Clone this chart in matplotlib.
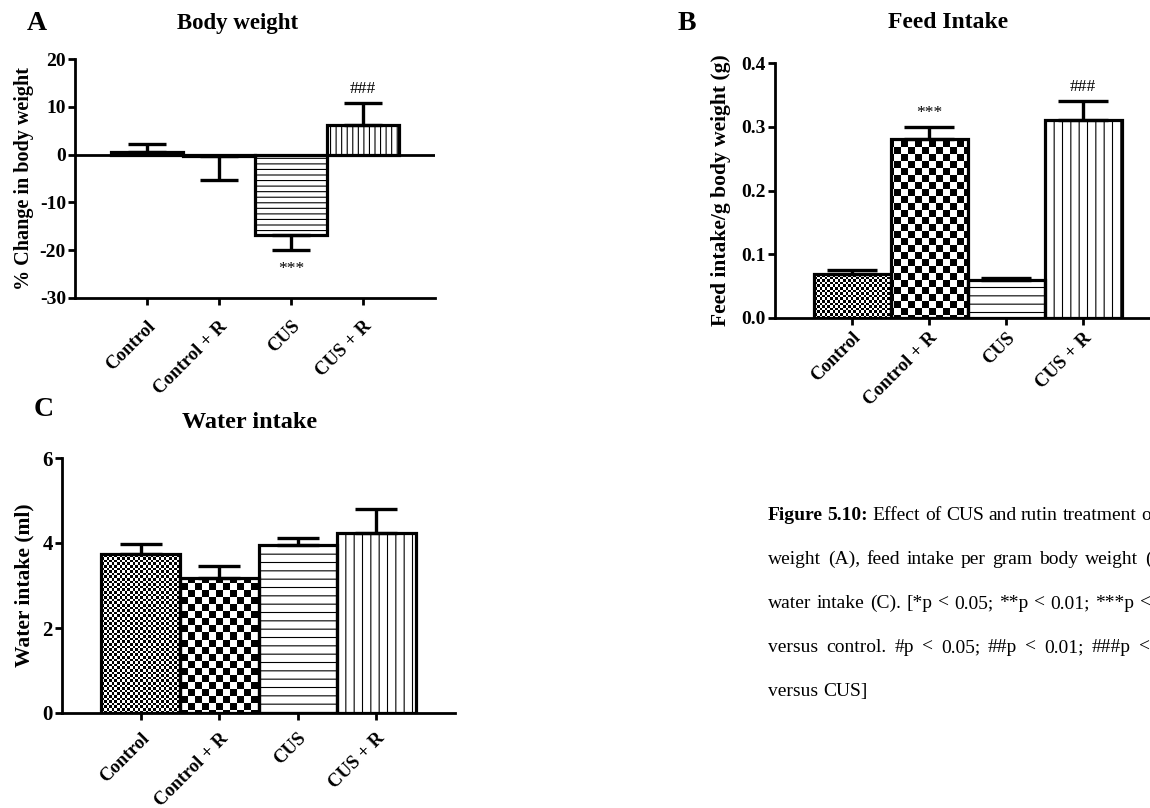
import numpy as np
import matplotlib
matplotlib.use("Agg")
import matplotlib.pyplot as plt
from matplotlib.ticker import FormatStrFormatter
from matplotlib.transforms import IdentityTransform

# figure size in pixels (dpi 100)
W, H = 1150, 808

groups = ["Control", "Control + R", "CUS", "CUS + R"]

# A - % change in body weight (mean, one-sided error)
bw_mean = [0.6, -0.2, -16.9, 6.1]
bw_err = [1.6, 5.1, 3.0, 4.7]
bw_marks = ["", "", "***", "###"]

# B - feed intake per g body weight
feed_mean = [0.069, 0.28, 0.06, 0.31]
feed_err = [0.006, 0.019, 0.002, 0.031]
feed_marks = ["", "***", "", "###"]

# C - water intake (ml)
water_mean = [3.74, 3.18, 3.95, 4.24]
water_err = [0.24, 0.29, 0.17, 0.55]
water_marks = ["", "", "", ""]

caption_lines = [
    "Figure 5.10: Effect of CUS and rutin treatment on body",
    "weight (A), feed intake per gram body weight (B) and",
    "water intake (C). [*p < 0.05; **p < 0.01; ***p < 0.001",
    "versus control. #p < 0.05; ##p < 0.01; ###p < 0.001",
    "versus CUS]",
]
caption_bold = ["Figure", "5.10:"]

plt.rcParams["font.family"] = ["Liberation Serif", "DejaVu Serif"]
plt.rcParams["font.weight"] = "bold"
plt.rcParams["axes.labelweight"] = "bold"
plt.rcParams["axes.unicode_minus"] = False
plt.rcParams["hatch.linewidth"] = 0.8

fig = plt.figure(figsize=(W / 100, H / 100), dpi=100)


# axes rectangle from pixel edges (top-left origin)
def px_rect(left, top, right, bottom):
    return [left / W, 1 - bottom / H, (right - left) / W, (bottom - top) / H]


def px(x, y):
    return x / W, 1 - y / H


# checkerboard texture over the whole axes, clipped to one bar
def checker(ax, bar, square):
    bb = ax.get_window_extent()
    w, h = int(round(bb.width)), int(round(bb.height))
    yy, xx = np.mgrid[0:h, 0:w]
    img = ((np.floor(xx / square) + np.floor(yy / square)) % 2)
    im = ax.imshow(img, cmap="gray_r", vmin=0, vmax=1, interpolation="nearest",
                   extent=(0, 1, 0, 1), transform=ax.transAxes, aspect="auto",
                   zorder=1.5)
    im.set_clip_path(bar)


def panel(ax, means, errs, marks, ylim, yticks, fmt, capsize, tick_fs, xpad,
          hatch_step, zero_line=False):
    x = np.arange(len(means))
    face = ax.bar(x, means, width=1.0, color="white", linewidth=0, zorder=1)
    # textures: fine checker, coarse checker, horizontal, vertical lines
    checker(ax, face[0], 2.6)
    checker(ax, face[1], 7.0)
    outline = ax.bar(x, means, width=1.0, facecolor="none", edgecolor="black",
                     linewidth=2.3, zorder=2)
    outline[2].set_hatch("-" * hatch_step[0])
    outline[3].set_hatch("|" * hatch_step[1])

    lower = [e if m < 0 else 0 for m, e in zip(means, errs)]
    upper = [e if m >= 0 else 0 for m, e in zip(means, errs)]
    ax.errorbar(x, means, yerr=[lower, upper], fmt="none", ecolor="black",
                elinewidth=2.4, capsize=capsize, capthick=2.4, zorder=3)

    for i, (m, e, s) in enumerate(zip(means, errs, marks)):
        if not s:
            continue
        if m < 0:
            ax.annotate(s, (i, m - e), xytext=(0, -14), textcoords="offset points",
                        ha="center", va="center", fontsize=12.5,
                        fontweight="normal")
        else:
            ax.annotate(s, (i, m + e), xytext=(0, 10), textcoords="offset points",
                        ha="center", va="center", fontsize=12.5,
                        fontweight="normal")

    if zero_line:
        ax.axhline(0, color="black", linewidth=2.0, zorder=2.5)

    ax.set_xlim(-1.0, 4.0)
    ax.set_ylim(*ylim)
    ax.set_yticks(yticks)
    ax.yaxis.set_major_formatter(FormatStrFormatter(fmt))
    ax.set_xticks(x)
    ax.set_xticklabels(groups, rotation=45, ha="right", va="top",
                       rotation_mode="anchor", fontsize=13.5)
    ax.tick_params(axis="y", labelsize=tick_fs, pad=1.5)
    ax.tick_params(direction="out", length=5, width=2.0, color="black")
    ax.tick_params(axis="x", pad=xpad)
    for side in ["top", "right"]:
        ax.spines[side].set_visible(False)
    for side in ["left", "bottom"]:
        ax.spines[side].set_linewidth(2.0)


# ---- A: body weight ----
axA = fig.add_axes(px_rect(75, 59, 435, 298))
panel(axA, bw_mean, bw_err, bw_marks, (-30, 20), [-30, -20, -10, 0, 10, 20],
      "%d", 13.5, 14, 9, (3, 3), zero_line=True)
axA.set_ylabel("% Change in body weight", fontsize=14.5)
axA.yaxis.set_label_coords(-0.114, 0.5)

# ---- B: feed intake ----
axB = fig.add_axes(px_rect(775, 63, 1160, 318))
panel(axB, feed_mean, feed_err, feed_marks, (0, 0.4), [0, 0.1, 0.2, 0.3, 0.4],
      "%.1f", 18, 14, 3, (2, 2))
axB.set_ylabel("Feed intake/g body weight (g)", fontsize=15.5)
axB.yaxis.set_label_coords(-0.114, 0.5)

# ---- C: water intake ----
axC = fig.add_axes(px_rect(62, 458, 455, 713))
panel(axC, water_mean, water_err, water_marks, (0, 6), [0, 2, 4, 6],
      "%d", 15, 15, 7, (2, 2))
axC.set_ylabel("Water intake (ml)", fontsize=15.5)
axC.yaxis.set_label_coords(-0.069, 0.5)

# panel letters and titles
fig.text(*px(37, 23), "A", fontsize=20, ha="center", va="center")
fig.text(*px(238, 23), "Body weight", fontsize=16.5, ha="center", va="center")
fig.text(*px(687, 23), "B", fontsize=20, ha="center", va="center")
fig.text(*px(948, 23), "Feed Intake", fontsize=17, ha="center", va="center")
fig.text(*px(44, 409), "C", fontsize=20, ha="center", va="center")
fig.text(*px(250, 422), "Water intake", fontsize=17.5, ha="center", va="center")

# caption, set word by word so the spacing can be widened like justified text
renderer = fig.canvas.get_renderer()
cap_x = 768
cap_base = [520, 564, 608, 652, 696]
cap_gap = [4.6, 6.6, 5.5, 8.0, 4.9]
for n, (line, yb, gap) in enumerate(zip(caption_lines, cap_base, cap_gap)):
    xc = cap_x
    for word in line.split(" "):
        bold = n == 0 and word in caption_bold
        t = fig.text(xc, H - yb, word, transform=IdentityTransform(),
                     fontsize=14, fontweight="bold" if bold else "normal",
                     ha="left", va="baseline")
        xc += t.get_window_extent(renderer).width + gap

fig.savefig("out.png", dpi=100)
